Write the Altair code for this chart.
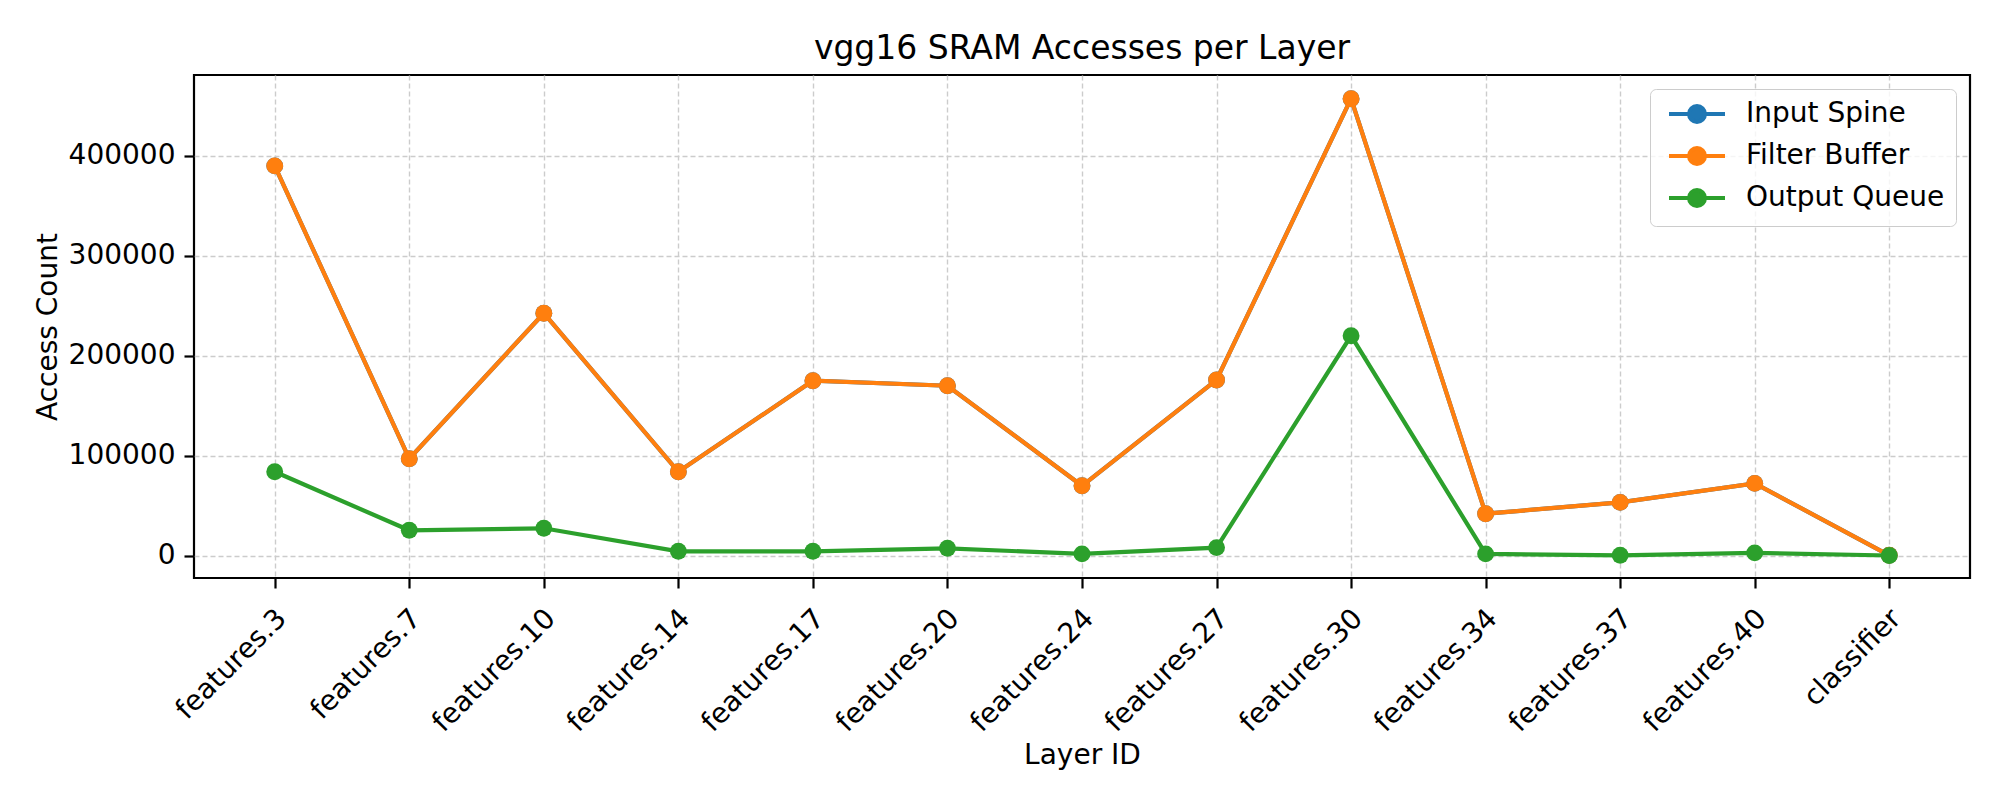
import altair as alt
import pandas as pd

layers = ["features.3", "features.7", "features.10", "features.14", "features.17",
          "features.20", "features.24", "features.27", "features.30", "features.34",
          "features.37", "features.40", "classifier"]
input_spine = [389700, 96800, 242400, 83800, 174900, 169900, 69800, 175600, 456900,
               41900, 53200, 72200, 300]
filter_buffer = [389700, 96800, 242400, 83800, 174900, 169900, 69800, 175600, 456900,
                 41900, 53200, 72200, 300]
output_queue = [83800, 25300, 27300, 4300, 4300, 7300, 1700, 8000, 219800,
                1700, 300, 2700, 100]
series_names = ["Input Spine", "Filter Buffer", "Output Queue"]
series_colors = ["#1f77b4", "#ff7f0e", "#2ca02c"]
y_ticks = [0, 100000, 200000, 300000, 400000]

rows = []
for name, vals in zip(series_names, [input_spine, filter_buffer, output_queue]):
    for layer, v in zip(layers, vals):
        rows.append({"layer": layer, "series": name, "value": v})
df = pd.DataFrame(rows)

FONT = "DejaVu Sans"

x_enc = alt.X("layer:N", sort=layers,
              scale=alt.Scale(type="point", domain=layers, padding=0.6),
              axis=alt.Axis(title="Layer ID", labelAngle=-45, labelAlign="right",
                            labelBaseline="top", labelPadding=16, labelOffset=-3,
                            titlePadding=4))
y_enc = alt.Y("value:Q", scale=alt.Scale(domain=[-22400, 480600], nice=False, zero=False),
              axis=alt.Axis(title="Access Count", values=y_ticks, format="d",
                            labelPadding=9, titlePadding=6))
legend_path = "M-0.6,0L5,0M2.99,0A0.79,0.79,0,1,1,1.41,0A0.79,0.79,0,1,1,2.99,0Z"
color_enc = alt.Color("series:N",
                      scale=alt.Scale(domain=series_names, range=series_colors),
                      legend=alt.Legend(
                          title=None, orient="top-right", offset=14,
                          symbolType=legend_path,
                          symbolSize=400, symbolStrokeWidth=4.2, symbolOpacity=1,
                          labelFontSize=28, labelFont=FONT, labelOffset=57,
                          labelLimit=500,
                          rowPadding=8, padding=11, cornerRadius=6,
                          fillColor="rgba(255,255,255,0.8)", strokeColor="#cccccc",
                          labelColor="black"))

charts = []
for name in series_names:
    base = alt.Chart(df).transform_filter(alt.datum.series == name)
    line = base.mark_line(strokeWidth=4.2).encode(x=x_enc, y=y_enc, color=color_enc)
    pts = base.mark_point(filled=True, size=285, opacity=1).encode(x=x_enc, y=y_enc, color=color_enc)
    charts += [line, pts]

chart = alt.layer(*charts).properties(
    width=1776, height=503,
    title=alt.TitleParams("vgg16 SRAM Accesses per Layer", fontSize=33, font=FONT,
                          fontWeight="normal", color="black", offset=9, anchor="middle"),
    autosize=alt.AutoSizeParams(type="none"),
    padding={"left": 186, "top": 67, "right": 22, "bottom": 214},
).configure_view(
    stroke="black", strokeWidth=2.2
).configure_axis(
    labelFont=FONT, titleFont=FONT, labelFontSize=28, titleFontSize=28,
    labelColor="black", titleColor="black", titleFontWeight="normal",
    domain=False, tickColor="black", tickWidth=2.2, tickSize=10,
    grid=True, gridColor="#cccccc", gridWidth=1.4, gridDash=[5, 3]
)

chart.save("out.html", embed_options={"renderer": "svg", "actions": False})
